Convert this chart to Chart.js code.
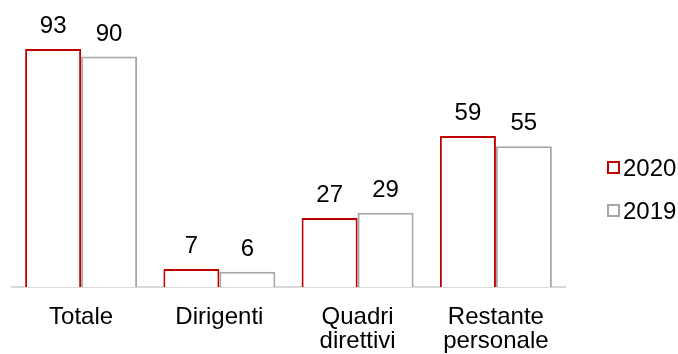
<!DOCTYPE html>
<html>
<head>
<meta charset="utf-8">
<script src="https://cdn.jsdelivr.net/npm/chart.js@4/dist/chart.umd.min.js"></script>
<style>
  html, body { margin: 0; padding: 0; background: #ffffff; }
  #wrap { width: 678px; height: 354px; }
</style>
</head>
<body>
<div id="wrap"><canvas id="c" width="678" height="354"></canvas></div>
<script>
// Personale per categoria, 2020 vs 2019
const categories = [["Totale"], ["Dirigenti"], ["Quadri", "direttivi"], ["Restante", "personale"]];
const values2020 = [93, 7, 27, 59];
const values2019 = [90, 6, 29, 55];
const seriesNames = ["2020", "2019"];
const seriesColors = ["#c00000", "#a6a6a6"];

const FONT = "'Liberation Sans', Arial, sans-serif";

// value labels above each bar
const valueLabels = {
  id: 'valueLabels',
  afterDatasetsDraw(chart) {
    const ctx = chart.ctx;
    ctx.save();
    ctx.font = "24px " + FONT;
    ctx.fillStyle = "#000000";
    ctx.textAlign = "center";
    ctx.textBaseline = "alphabetic";
    chart.data.datasets.forEach((ds, di) => {
      chart.getDatasetMeta(di).data.forEach((bar, i) => {
        ctx.fillText(String(ds.data[i]), bar.x, bar.y - 16);
      });
    });
    ctx.restore();
  }
};

// legend at the right: outlined square + year
const sideLegend = {
  id: 'sideLegend',
  afterDraw(chart) {
    const ctx = chart.ctx;
    const rowsY = [168, 211];
    ctx.save();
    chart.data.datasets.forEach((ds, di) => {
      const y = rowsY[di];
      ctx.lineWidth = 2;
      ctx.strokeStyle = ds.borderColor;
      ctx.fillStyle = "#ffffff";
      ctx.fillRect(608, y - 6, 11, 11);
      ctx.strokeRect(608, y - 6, 11, 11);
      ctx.font = "24px " + FONT;
      ctx.fillStyle = "#000000";
      ctx.textAlign = "left";
      ctx.textBaseline = "middle";
      ctx.fillText(ds.label, 623, y + 1);
    });
    ctx.restore();
  }
};

new Chart(document.getElementById('c'), {
  type: 'bar',
  data: {
    labels: categories,
    datasets: [
      { label: seriesNames[0], data: values2020, backgroundColor: "#ffffff", borderColor: seriesColors[0], borderWidth: 2 },
      { label: seriesNames[1], data: values2019, backgroundColor: "#ffffff", borderColor: seriesColors[1], borderWidth: 2 }
    ]
  },
  options: {
    responsive: false,
    animation: false,
    devicePixelRatio: 1,
    layout: { padding: { left: 12, right: 113, top: 31, bottom: 0 } },
    datasets: { bar: { categoryPercentage: 0.81, barPercentage: 1.0 } },
    plugins: { legend: { display: false }, tooltip: { enabled: false } },
    scales: {
      x: {
        grid: { display: false, drawTicks: false },
        border: { display: true, color: "#d9d9d9", width: 2 },
        ticks: { color: "#000000", padding: 18, font: { family: FONT, size: 24, lineHeight: 1.0 }, maxRotation: 0, autoSkip: false },
        afterFit(scale) { scale.height = 67; }
      },
      y: {
        display: false,
        min: 0,
        max: 100
      }
    }
  },
  plugins: [valueLabels, sideLegend]
});
</script>
</body>
</html>
